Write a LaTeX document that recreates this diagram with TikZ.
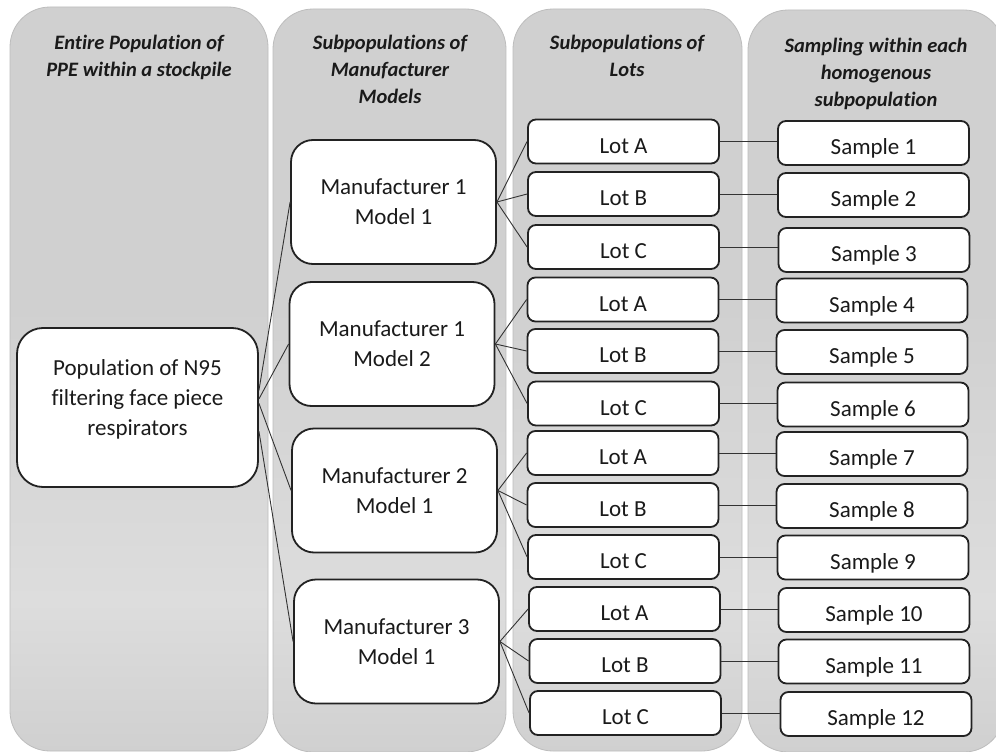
\documentclass[tikz,border=0pt]{standalone}
\usepackage{fontspec}
\setmainfont{Carlito}[Ligatures=NoCommon]
\definecolor{pd}{HTML}{D0D0D0}
\definecolor{pl}{HTML}{DDDDDD}
\definecolor{panelborder}{HTML}{BDBDBD}
\definecolor{txt}{HTML}{1A1A1A}
\definecolor{boxline}{HTML}{222222}
\definecolor{linkc}{HTML}{333333}
\pgfdeclareverticalshading{panelshade}{100bp}{color(0bp)=(pd); color(25bp)=(pd); color(35bp)=(pl); color(55bp)=(pd); color(100bp)=(pd)}
\tikzset{
  panel/.style={draw=panelborder, line width=0.8pt, shading=panelshade, rounded corners=40pt},
  hdr/.style={font=\fontsize{20.5}{27}\selectfont\bfseries\itshape, text=txt, align=center, anchor=north, inner sep=0pt},
  rbox/.style={draw=boxline, fill=white, line width=1.8pt, align=center, inner sep=0pt, font=\fontsize{23}{30}\selectfont, text=txt},
  mfr/.style={rbox, rounded corners=22pt, minimum width=205pt, minimum height=124pt},
  lotbox/.style={rbox, rounded corners=8pt, minimum width=191pt, minimum height=44pt, text height=23pt, text depth=0pt},
  link/.style={draw=linkc, line width=0.9pt}
}
\begin{document}
\begin{tikzpicture}[x=1pt,y=-1pt]
\clip (0,0) rectangle (996,752);
\fill[white] (0,0) rectangle (996,752);
% panels
\path[panel] (10,7) rectangle (268,751);
\path[panel] (273,9) rectangle (506,752);
\path[panel] (513,9) rectangle (742,751);
\path[panel] (748,10) rectangle (1004,752);
% headers
\node[hdr] (h1) at (139,35) {Entire Population of\\PPE within a stockpile};
\node[hdr] (h2) at (390,35) {Subpopulations of\\Manufacturer\\Models};
\node[hdr] (h3) at (627,35) {Subpopulations of\\Lots};
\node[hdr] (h4) at (876,38) {Sampling within each\\homogenous\\subpopulation};
% population
\node[rbox, rounded corners=26pt, minimum width=241pt, minimum height=159pt, text depth=19pt] (pop) at (137.5,407.5) {Population of N95\\filtering face piece\\respirators};
% manufacturers
\node[mfr] (m1) at (393.5,202) {Manufacturer 1\\Model 1};
\node[mfr] (m2) at (392,344) {Manufacturer 1\\Model 2};
\node[mfr] (m3) at (394.5,490.5) {Manufacturer 2\\Model 1};
\node[mfr] (m4) at (396.5,641.5) {Manufacturer 3\\Model 1};
% lots
\node[lotbox] (l1) at (623.5,141.5) {Lot A};
\node[lotbox] (l2) at (623.5,194) {Lot B};
\node[lotbox] (l3) at (623.5,247) {Lot C};
\node[lotbox] (l4) at (623,299.5) {Lot A};
\node[lotbox] (l5) at (623,351) {Lot B};
\node[lotbox] (l6) at (623.5,403.5) {Lot C};
\node[lotbox] (l7) at (623,453) {Lot A};
\node[lotbox] (l8) at (623,505) {Lot B};
\node[lotbox] (l9) at (623.5,557) {Lot C};
\node[lotbox] (l10) at (624.5,609) {Lot A};
\node[lotbox] (l11) at (625,661) {Lot B};
\node[lotbox] (l12) at (625.5,713) {Lot C};
% samples
\node[lotbox] (s1) at (873.5,143) {Sample 1};
\node[lotbox] (s2) at (873.5,195) {Sample 2};
\node[lotbox] (s3) at (874,250) {Sample 3};
\node[lotbox] (s4) at (872,300.5) {Sample 4};
\node[lotbox] (s5) at (872,352) {Sample 5};
\node[lotbox] (s6) at (873,404.5) {Sample 6};
\node[lotbox] (s7) at (872,454) {Sample 7};
\node[lotbox] (s8) at (872,506) {Sample 8};
\node[lotbox] (s9) at (873,557.5) {Sample 9};
\node[lotbox] (s10) at (874,610) {Sample 10};
\node[lotbox] (s11) at (874,661.5) {Sample 11};
\node[lotbox] (s12) at (876,714) {Sample 12};
% population -> manufacturers
\draw[link] (pop.8) -- (m1.west);
\draw[link] (pop.4.5) -- (m2.west);
\draw[link] (pop.2) -- (m3.west);
\draw[link] (pop.-11.5) -- (m4.west);
% manufacturers -> lots
\foreach \m/\a/\b/\c in {m1/l1/l2/l3, m2/l4/l5/l6, m3/l7/l8/l9, m4/l10/l11/l12}{
  \draw[link] (\m.east) -- (\a.west);
  \draw[link] (\m.east) -- (\b.west);
  \draw[link] (\m.east) -- (\c.west);
}
% lots -> samples
\foreach \i in {1,...,12}{
  \draw[link] (l\i.east) -- (l\i.east -| s\i.west);
}
\end{tikzpicture}
\end{document}
